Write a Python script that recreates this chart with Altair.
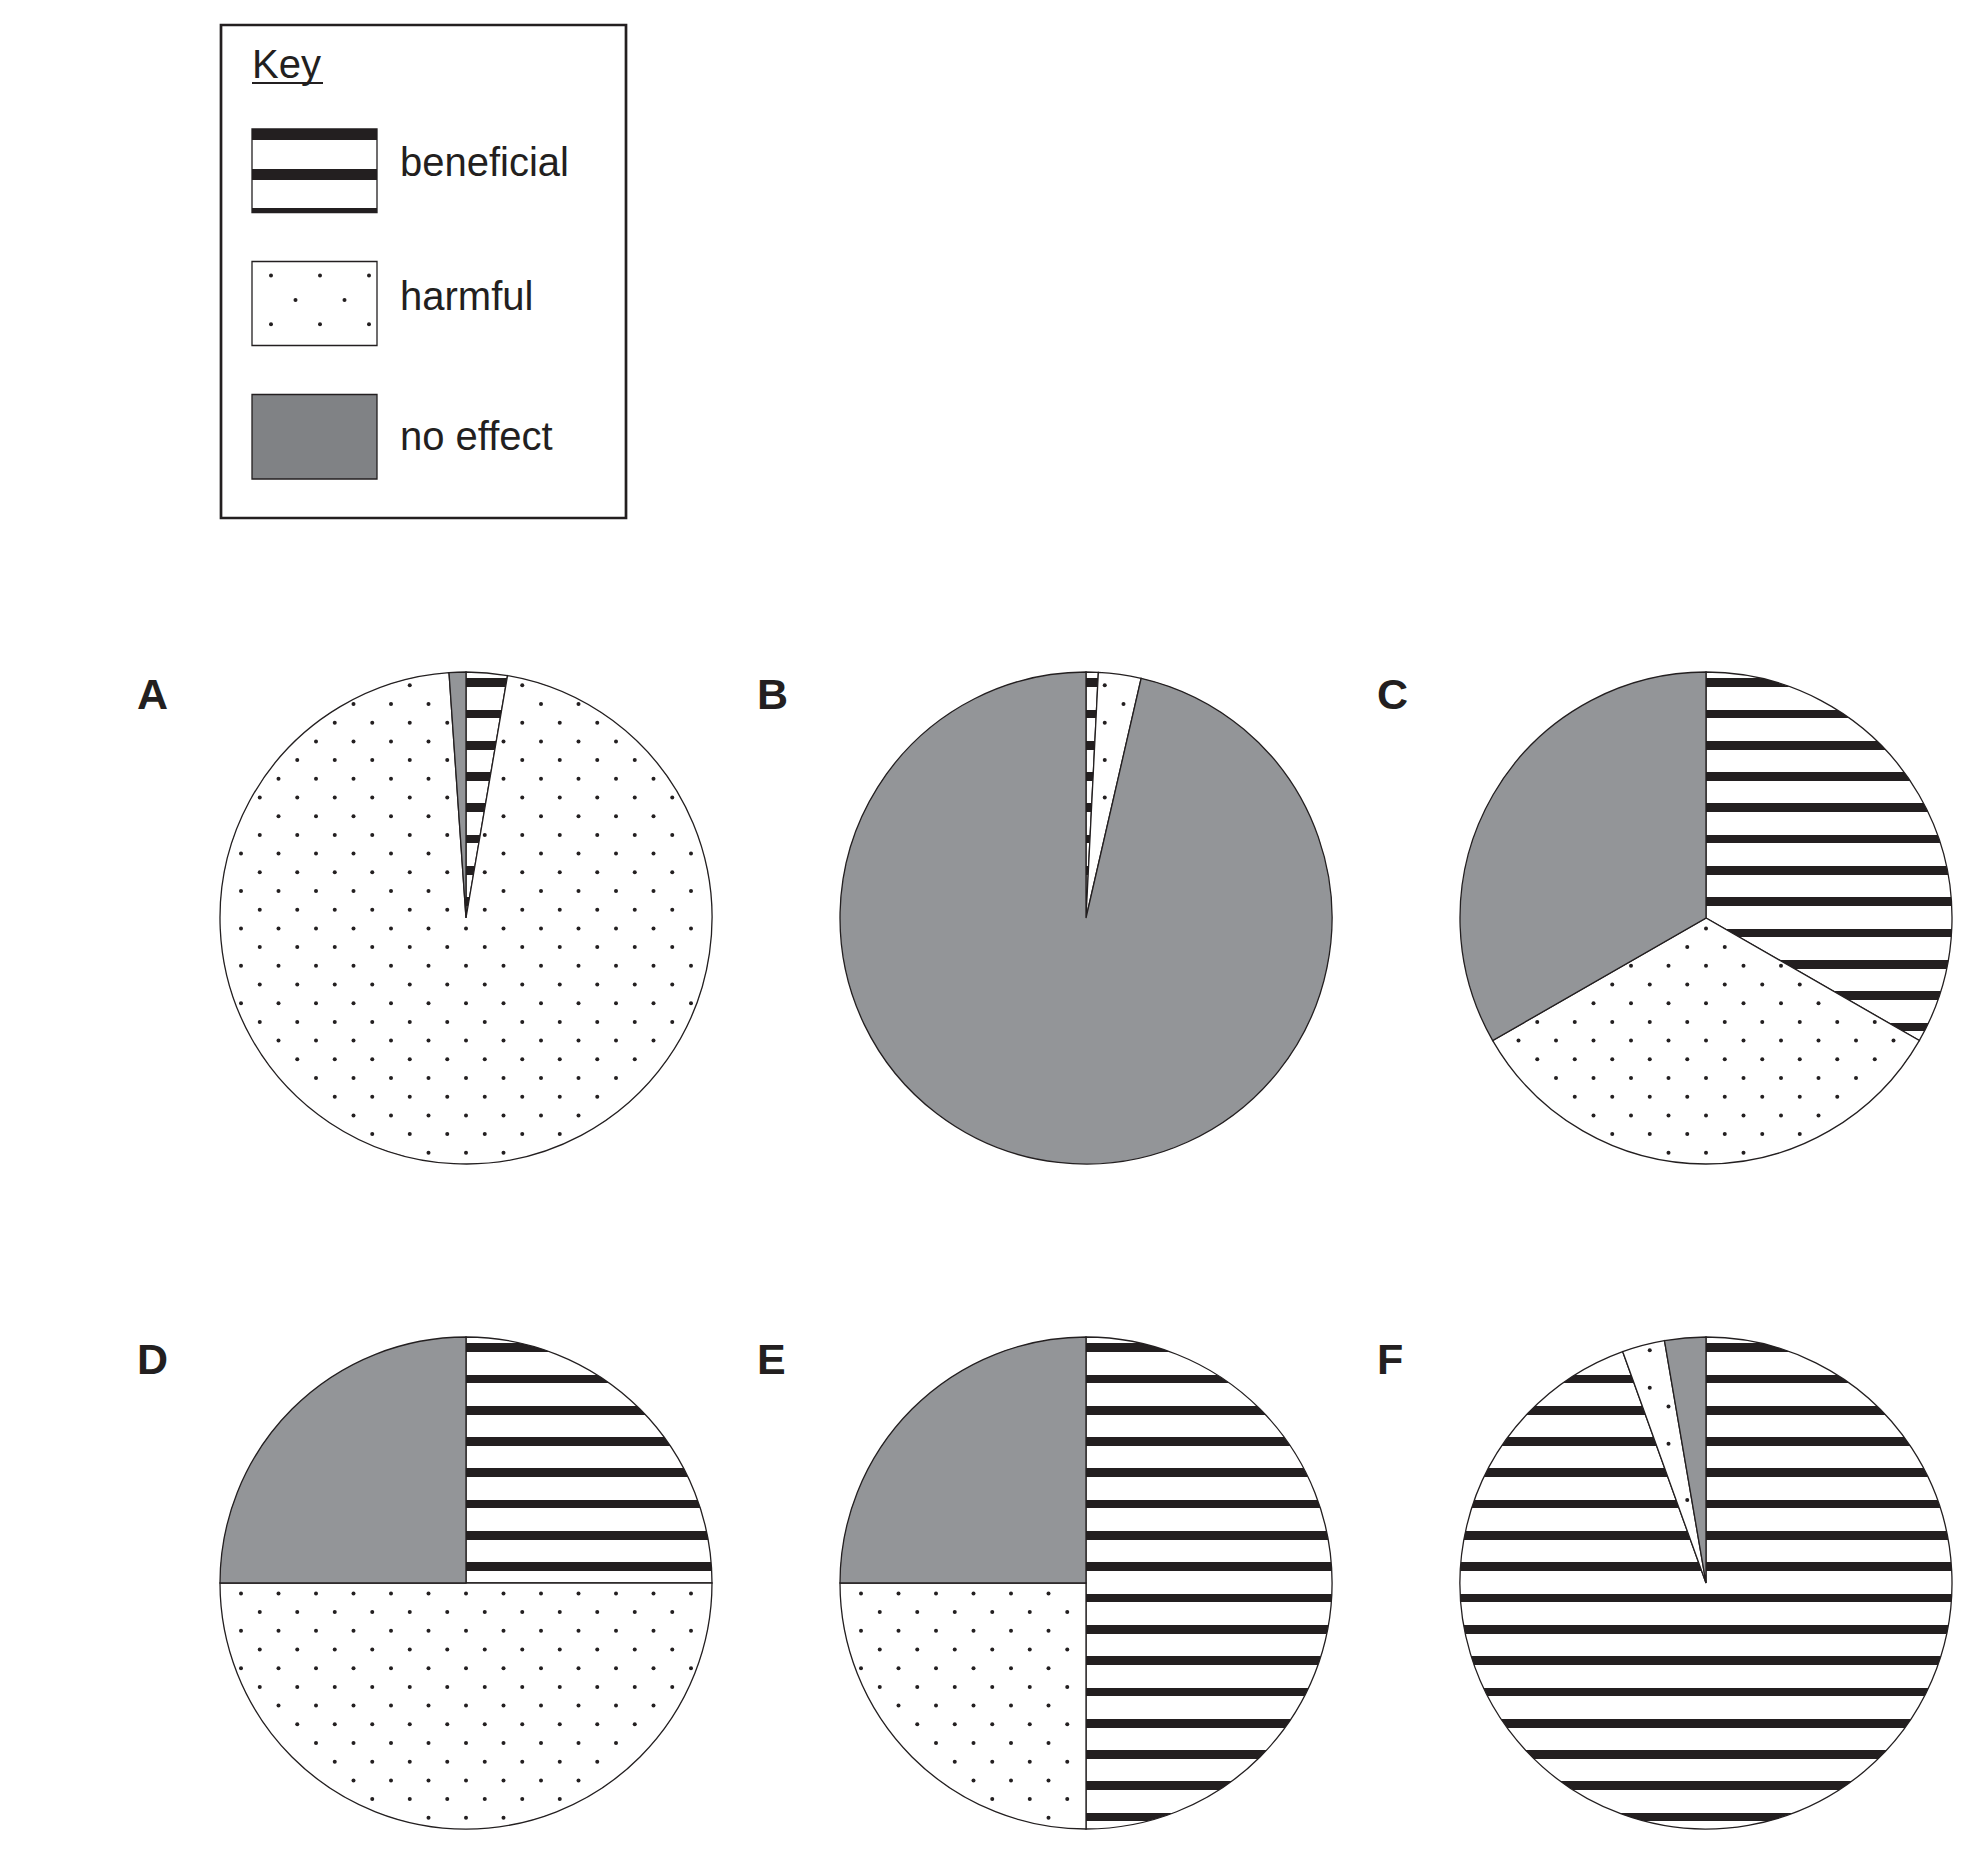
import math
import numpy as np
import pandas as pd
import altair as alt

# ---------------- data (percent of each pie) ----------------
pies = ["A", "B", "C", "D", "E", "F"]
categories = ["beneficial", "harmful", "no effect"]
beneficial = [2.7, 0.8, 33.3, 25.0, 50.0, 94.5]
harmful = [96.2, 2.8, 33.4, 50.0, 25.0, 2.8]
no_effect = [1.1, 96.4, 33.3, 25.0, 25.0, 2.7]

# ---------------- layout / style ----------------
W, H = 1962, 1838
OFF = 8
R = 246
INK = "#231f20"
PIE_GRAY = "#939598"
KEY_GRAY = "#808285"
FONT = "Liberation Sans"
DOT = 16

xs = alt.Scale(domain=[0, W], nice=False, zero=False)
ys = alt.Scale(domain=[0, H], nice=False, zero=False, reverse=True)


def center(k):
    col, row = k % 3, k // 3
    return 466 + 620 * col - OFF, 918 + 665 * row - OFF


# horizontal stripe texture for "beneficial" (gradient relative to the circle's box)
stops = [{"offset": 0, "color": "white"}]
for n in range(-7, 9):
    c = (R - 16.3 + 31.3 * n) / (2 * R)
    a, b = c - 4.35 / (2 * R), c + 4.35 / (2 * R)
    stops += [{"offset": a, "color": "white"}, {"offset": a, "color": INK},
              {"offset": b, "color": INK}, {"offset": b, "color": "white"}]
stops.append({"offset": 1, "color": "white"})
stripe_fill = {"gradient": "linear", "x1": 0, "y1": 0, "x2": 0, "y2": 1, "stops": stops}


def edge_dist(rr, d):
    return rr * math.sin(d) if d < math.pi / 2 else rr


def dots_for(cx, cy, a0, a1):
    pts = []
    for j in range(-14, 15):
        dy = -8.3 + 18.7 * j
        if abs(dy) > R:
            continue
        base = 18.75 if j % 2 == 0 else 0.0
        for i in range(-8, 9):
            dx = base + 37.5 * i
            rr = math.hypot(dx, dy)
            if rr > R - 3 or rr < 1:
                continue
            th = math.atan2(dx, -dy) % (2 * math.pi)
            if not (a0 < th < a1):
                continue
            if edge_dist(rr, th - a0) < 3.5 or edge_dist(rr, a1 - th) < 3.5:
                continue
            pts.append({"x": cx + dx, "y": cy + dy})
    return pd.DataFrame(pts, columns=["x", "y"])


layers = []

# ---------------- key ----------------
one = pd.DataFrame({"k": [0]})


def box(x0, y0, x1, y1, **kw):
    return alt.Chart(one).mark_rect(**kw).encode(
        x=alt.value(x0 - OFF), x2=alt.value(x1 - OFF),
        y=alt.value(y0 - OFF), y2=alt.value(y1 - OFF))


def label(txt, x, y, size, weight="normal"):
    return alt.Chart(one).mark_text(
        text=txt, font=FONT, fontSize=size, fontWeight=weight, color=INK,
        align="left", baseline="alphabetic").encode(
        x=alt.value(x - OFF), y=alt.value(y - OFF))


layers.append(box(221, 25, 626, 518, fill="white", stroke=INK, strokeWidth=2.7))
layers.append(label("Key", 252, 77.5, 40))
layers.append(alt.Chart(one).mark_rule(color=INK, strokeWidth=2.2).encode(
    x=alt.value(252 - OFF), x2=alt.value(323 - OFF), y=alt.value(83 - OFF)))

key_stripes = {"gradient": "linear", "x1": 0, "y1": 0, "x2": 0, "y2": 1, "stops": [
    {"offset": 0, "color": INK}, {"offset": 0.127, "color": INK},
    {"offset": 0.127, "color": "white"}, {"offset": 0.475, "color": "white"},
    {"offset": 0.475, "color": INK}, {"offset": 0.61, "color": INK},
    {"offset": 0.61, "color": "white"}, {"offset": 0.95, "color": "white"},
    {"offset": 0.95, "color": INK}, {"offset": 1, "color": INK}]}
layers.append(box(252, 129, 377, 212.5, fill=key_stripes, stroke=INK, strokeWidth=1.3))
layers.append(box(252, 261.5, 377, 345.5, fill="white", stroke=INK, strokeWidth=1.3))
kd = []
for j in range(3):
    y = 275.5 + 24.4 * j
    xs0 = [271 + 49 * i for i in range(3)] if j % 2 == 0 else [295.5 + 49 * i for i in range(2)]
    for x in xs0:
        kd.append({"x": x - OFF, "y": y - OFF})
layers.append(alt.Chart(pd.DataFrame(kd)).mark_circle(size=DOT, color=INK, opacity=1).encode(
    x=alt.X("x:Q", scale=xs, axis=None), y=alt.Y("y:Q", scale=ys, axis=None)))
layers.append(box(252, 394.5, 377, 479, fill=KEY_GRAY, stroke=INK, strokeWidth=1.3))
layers.append(label(categories[0], 400, 175.5, 40))
layers.append(label(categories[1], 400, 310, 40))
layers.append(label(categories[2], 400, 449.5, 40))

# ---------------- pies ----------------
for k, p in enumerate(pies):
    cx, cy = center(k)
    vals = [beneficial[k], harmful[k], no_effect[k]]
    total = sum(vals)
    df = pd.DataFrame({"pie": p, "category": categories, "value": vals, "ord": [0, 1, 2]})

    # stripe texture underneath
    layers.append(alt.Chart(pd.DataFrame({"pie": [p]})).mark_arc(
        radius=R, theta=0, theta2=2 * math.pi, fill=stripe_fill, strokeWidth=0).encode(
        x=alt.value(cx), y=alt.value(cy)))

    # slices
    layers.append(alt.Chart(df).mark_arc(radius=R, stroke=INK, strokeWidth=1.3).encode(
        x=alt.value(cx), y=alt.value(cy),
        theta=alt.Theta("value:Q", stack=True, scale=alt.Scale(domain=[0, 100])),
        color=alt.Color("category:N", legend=None,
                        scale=alt.Scale(domain=categories,
                                        range=["transparent", "white", PIE_GRAY])),
        order=alt.Order("ord:Q")))

    # dot texture inside the harmful slice
    a0 = 2 * math.pi * vals[0] / total
    a1 = 2 * math.pi * (vals[0] + vals[1]) / total
    dd = dots_for(cx, cy, a0, a1)
    if len(dd):
        layers.append(alt.Chart(dd).mark_circle(size=DOT, color=INK, opacity=1).encode(
            x=alt.X("x:Q", scale=xs, axis=None), y=alt.Y("y:Q", scale=ys, axis=None)))

    layers.append(alt.Chart(pd.DataFrame({"pie": [p]})).mark_text(
        text=p, font=FONT, fontSize=43, fontWeight="bold", color=INK,
        align="left", baseline="alphabetic").encode(
        x=alt.value(cx - 329), y=alt.value(cy - 209)))

chart = alt.layer(*layers).properties(
    width=W, height=H, padding=0,
    autosize=alt.AutoSizeParams(type="none"),
    background="white",
).configure_view(strokeWidth=0)

chart.save("out.html", embed_options={"renderer": "svg", "actions": False})
